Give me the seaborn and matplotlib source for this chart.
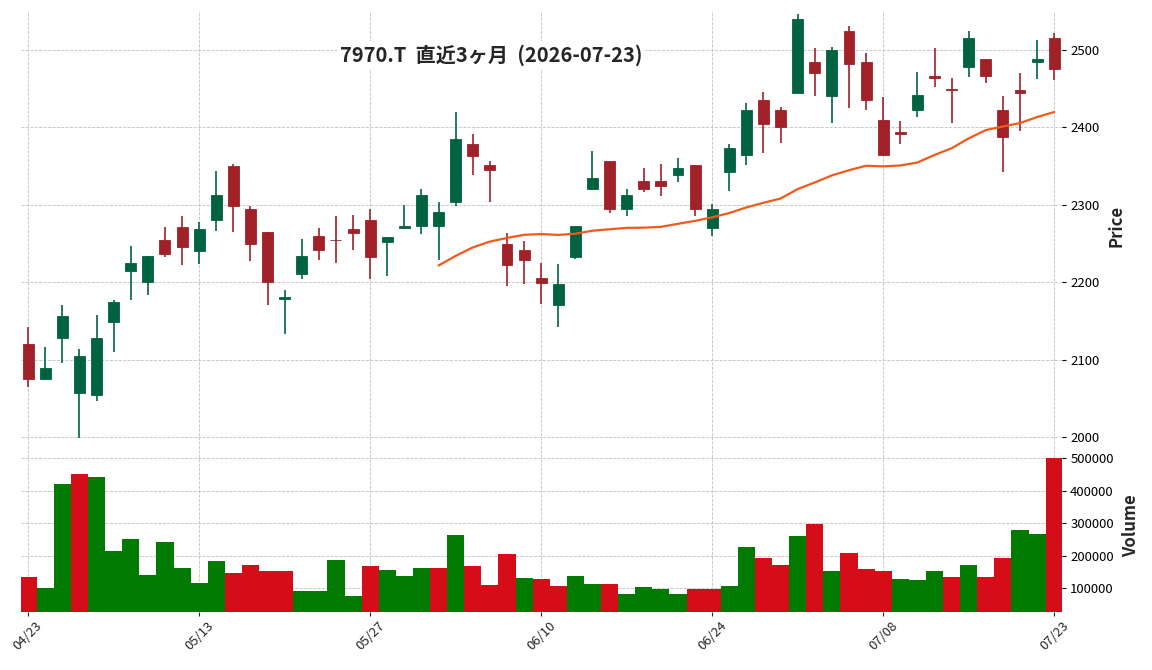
import numpy as np
import pandas as pd
import matplotlib
matplotlib.use("Agg")
import matplotlib.pyplot as plt
import seaborn as sns

TITLE = "7970.T  直近3ヶ月  (2026-07-23)"

dates = ["04/23", "04/24", "04/27", "04/28", "04/30", "05/01", "05/07", "05/08", "05/11", "05/12",
         "05/13", "05/14", "05/15", "05/18", "05/19", "05/20", "05/21", "05/22", "05/25", "05/26",
         "05/27", "05/28", "05/29", "06/01", "06/02", "06/03", "06/04", "06/05", "06/08", "06/09",
         "06/10", "06/11", "06/12", "06/15", "06/16", "06/17", "06/18", "06/19", "06/22", "06/23",
         "06/24", "06/25", "06/26", "06/29", "06/30", "07/01", "07/02", "07/03", "07/06", "07/07",
         "07/08", "07/09", "07/10", "07/13", "07/14", "07/15", "07/16", "07/17", "07/21", "07/22",
         "07/23"]

opens = [2120, 2075, 2128, 2057, 2054, 2148, 2214, 2200, 2254, 2271,
         2240, 2280, 2350, 2294, 2265, 2178, 2211, 2260, 2255, 2269,
         2280, 2252, 2270, 2272, 2272, 2304, 2378, 2351, 2249, 2241,
         2205, 2171, 2233, 2320, 2356, 2294, 2331, 2331, 2338, 2351,
         2270, 2342, 2365, 2435, 2422, 2444, 2485, 2440, 2525, 2484,
         2410, 2394, 2423, 2466, 2450, 2478, 2488, 2422, 2449, 2484,
         2515]
highs = [2142, 2116, 2170, 2114, 2157, 2177, 2247, 2234, 2271, 2286,
         2278, 2344, 2353, 2298, 2265, 2190, 2256, 2270, 2286, 2287,
         2294, 2258, 2300, 2321, 2303, 2420, 2392, 2357, 2264, 2253,
         2225, 2223, 2273, 2370, 2356, 2320, 2348, 2353, 2361, 2351,
         2301, 2378, 2431, 2446, 2427, 2546, 2503, 2504, 2531, 2496,
         2439, 2408, 2471, 2503, 2464, 2525, 2488, 2440, 2470, 2513,
         2522]
lows = [2064, 2074, 2096, 1999, 2046, 2110, 2177, 2184, 2232, 2222,
        2223, 2266, 2265, 2227, 2171, 2133, 2204, 2229, 2225, 2242,
        2204, 2208, 2270, 2262, 2229, 2299, 2338, 2304, 2195, 2197,
        2172, 2142, 2230, 2320, 2290, 2286, 2317, 2312, 2330, 2286,
        2260, 2318, 2352, 2367, 2380, 2444, 2440, 2406, 2425, 2423,
        2364, 2378, 2413, 2452, 2406, 2465, 2457, 2342, 2395, 2462,
        2461]
closes = [2075, 2089, 2156, 2104, 2128, 2175, 2225, 2234, 2237, 2246,
          2269, 2313, 2298, 2249, 2200, 2181, 2234, 2241, 2254, 2263,
          2233, 2258, 2272, 2313, 2291, 2385, 2363, 2345, 2222, 2229,
          2199, 2198, 2272, 2334, 2294, 2313, 2320, 2324, 2348, 2295,
          2295, 2373, 2422, 2404, 2400, 2540, 2470, 2500, 2482, 2435,
          2364, 2392, 2442, 2464, 2448, 2516, 2467, 2388, 2445, 2488,
          2476]
volumes = [134000, 100000, 421000, 452000, 443000, 213000, 250000, 140000, 241000, 161000,
           115000, 183000, 146000, 171000, 152000, 152000, 91000, 91000, 186000, 75000,
           167000, 155000, 137000, 161000, 161000, 262000, 167000, 109000, 204000, 131000,
           128000, 106000, 137000, 112000, 112000, 82000, 103000, 97000, 82000, 97000,
           97000, 106000, 225000, 192000, 171000, 259000, 296000, 152000, 207000, 158000,
           152000, 128000, 125000, 152000, 134000, 171000, 134000, 192000, 278000, 266000,
           502000]

UP, DOWN = "#006340", "#a02128"
VUP, VDOWN = "#007a00", "#d50d18"
MA_COLOR = "#f05a1a"
GRID = dict(linestyle="--", linewidth=0.6, color="#c0c0c0")

sns.set_theme(style="white")
plt.rcParams["font.family"] = ["Noto Sans CJK JP", "DejaVu Sans"]

df = pd.DataFrame({"date": dates, "open": opens, "high": highs,
                   "low": lows, "close": closes, "volume": volumes})
df["x"] = np.arange(len(df))
df["ma25"] = df["close"].rolling(25).mean()
df["candle"] = np.where(df["close"] > df["open"], "up", "down")
# volume colour follows close vs previous close
df["vdir"] = np.where(df["close"] > df["close"].shift(1), "up", "down")
df.loc[0, "vdir"] = df.loc[0, "candle"]

fig = plt.figure(figsize=(11.52, 6.7), dpi=100)
ax = fig.add_axes([0.0182, 0.3433, 0.9036, 0.6403])
axv = fig.add_axes([0.0182, 0.0866, 0.9036, 0.2567])

ccol = df["candle"].map({"up": UP, "down": DOWN})
ax.vlines(df["x"], df["low"], df["high"], colors=ccol, linewidth=1.2, zorder=2)
ax.bar(df["x"], (df["close"] - df["open"]).abs(), bottom=df[["open", "close"]].min(axis=1),
       width=0.64, color=ccol, edgecolor=ccol, linewidth=0.6, zorder=3)
sns.lineplot(data=df, x="x", y="ma25", color=MA_COLOR, linewidth=1.6, ax=ax, zorder=4)

sns.barplot(data=df, x="x", y="volume", hue="vdir", palette={"up": VUP, "down": VDOWN},
            dodge=False, width=1.0, saturation=1, legend=False, linewidth=0, ax=axv)

ticks = list(range(0, len(df), 10))
for a in (ax, axv):
    a.set_xlim(-0.42, len(df) - 0.55)
    a.set_xticks(ticks)
    a.grid(True, **GRID)
    a.set_axisbelow(True)
    for s in a.spines.values():
        s.set_visible(False)
    a.yaxis.tick_right()
    a.yaxis.set_label_position("right")
    a.tick_params(axis="y", direction="out", length=3, width=0.8, labelsize=9.5,
                  right=True, left=False, pad=3, colors="black")

ax.set_ylim(1996, 2550.5)
ax.set_yticks(range(2000, 2501, 100))
ax.tick_params(axis="x", bottom=False, labelbottom=False)
ax.set_xlabel("")
ax.set_ylabel("Price", fontsize=12, fontweight="bold", labelpad=6)

axv.set_ylim(26000, 556000)
axv.set_yticks(range(100000, 500001, 100000))
axv.set_yticklabels([str(v) for v in range(100000, 500001, 100000)])
axv.set_xticklabels([dates[i] for i in ticks], rotation=45, ha="center", fontsize=9.5)
axv.tick_params(axis="x", direction="out", length=3, width=0.8, bottom=True, pad=2)
axv.set_xlabel("")
axv.set_ylabel("Volume", fontsize=12, fontweight="bold", labelpad=6)

fig.text(0.426, 0.918, TITLE, ha="center", va="center", fontsize=14.5, fontweight="bold",
         bbox=dict(facecolor="white", edgecolor="none", pad=2))

fig.savefig("out.png", dpi=100)
